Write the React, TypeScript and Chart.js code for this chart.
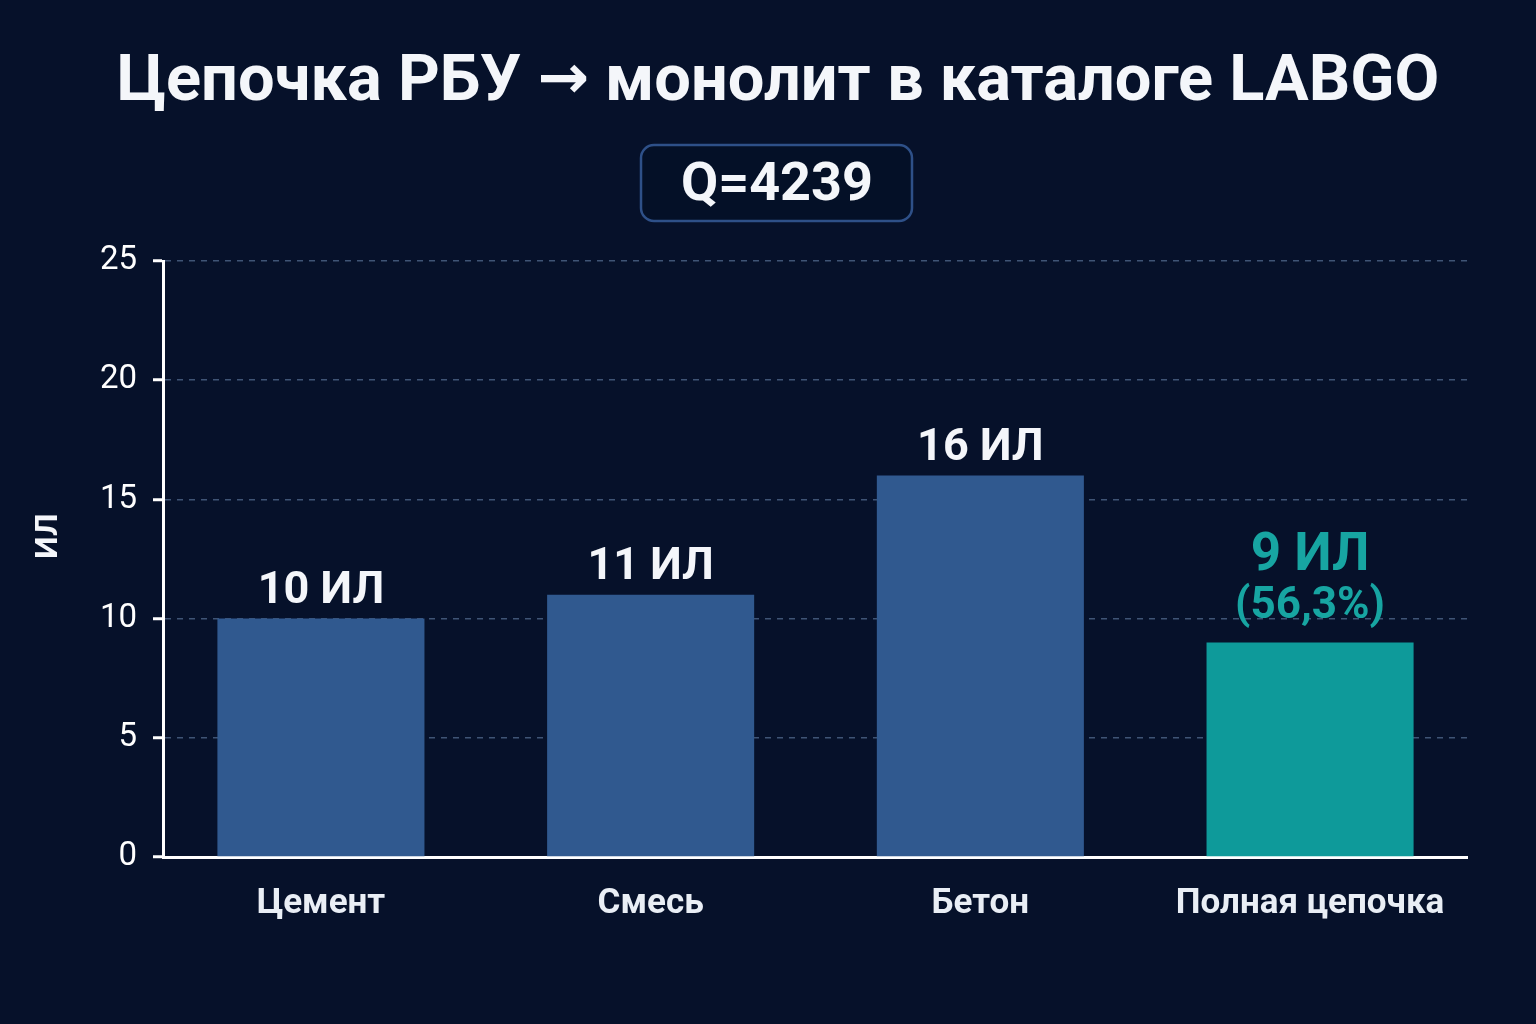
import { useEffect, useRef } from 'react';
import { Chart, registerables } from 'chart.js';

Chart.register(...registerables);

const W = 1536;
const H = 1024;
const BG = '#06112a';

const titleLeft = 'Цепочка РБУ ';
const titleArrow = '→';
const titleRight = ' монолит в каталоге LABGO';
const badgeText = 'Q=4239';
const yAxisTitle = 'ИЛ';

const categories = ['Цемент', 'Смесь', 'Бетон', 'Полная цепочка'];
const values = [10, 11, 16, 9];
const valueLabels = ['10 ИЛ', '11 ИЛ', '16 ИЛ', '9 ИЛ'];
const shareLabels = ['', '', '', '(56,3%)'];
const barColors = ['#30598f', '#30598f', '#30598f', '#0e9a9a'];
const yMin = 0;
const yMax = 25;
const yStep = 5;

const FONT = 'Roboto, "Noto Sans", sans-serif';
const ARROW_FONT = '"DejaVu Sans", sans-serif';

function roundRect(ctx: CanvasRenderingContext2D, x: number, y: number, w: number, h: number, r: number) {
  ctx.beginPath();
  ctx.moveTo(x + r, y);
  ctx.lineTo(x + w - r, y);
  ctx.arcTo(x + w, y, x + w, y + r, r);
  ctx.lineTo(x + w, y + h - r);
  ctx.arcTo(x + w, y + h, x + w - r, y + h, r);
  ctx.lineTo(x + r, y + h);
  ctx.arcTo(x, y + h, x, y + h - r, r);
  ctx.lineTo(x, y + r);
  ctx.arcTo(x, y, x + r, y, r);
  ctx.closePath();
}

const bgPlugin = {
  id: 'bgPlugin',
  beforeDraw(chart: any) {
    const ctx = chart.ctx as CanvasRenderingContext2D;
    ctx.save();
    ctx.fillStyle = BG;
    ctx.fillRect(0, 0, chart.width, chart.height);
    ctx.restore();
  },
};

function drawTitle(ctx: CanvasRenderingContext2D) {
  const targetWidth = 1323;
  const cx = 778;
  const baseline = 100;
  const measure = (size: number) => {
    ctx.font = `bold ${size}px ${FONT}`;
    const a = ctx.measureText(titleLeft).width;
    const c = ctx.measureText(titleRight).width;
    ctx.font = `bold ${size * 0.95}px ${ARROW_FONT}`;
    const b = ctx.measureText(titleArrow).width;
    return { a, b, c, total: a + b + c };
  };
  const base = 58;
  const m0 = measure(base);
  const size = Math.min(66, base * (targetWidth / m0.total));
  const m = measure(size);
  let x = cx - m.total / 2;
  ctx.textAlign = 'left';
  ctx.textBaseline = 'alphabetic';
  ctx.fillStyle = '#f4f6fa';
  ctx.font = `bold ${size}px ${FONT}`;
  ctx.fillText(titleLeft, x, baseline);
  x += m.a;
  ctx.font = `bold ${size * 0.95}px ${ARROW_FONT}`;
  ctx.fillText(titleArrow, x, baseline - 2);
  x += m.b;
  ctx.font = `bold ${size}px ${FONT}`;
  ctx.fillText(titleRight, x, baseline);
}

const decorPlugin = {
  id: 'decorPlugin',
  afterDraw(chart: any) {
    const ctx = chart.ctx as CanvasRenderingContext2D;
    ctx.save();
    drawTitle(ctx);

    // Badge
    roundRect(ctx, 641, 145, 271, 76, 13);
    ctx.fillStyle = '#041027';
    ctx.fill();
    ctx.lineWidth = 2.5;
    ctx.strokeStyle = '#2e5088';
    ctx.stroke();
    ctx.fillStyle = '#f4f6fa';
    ctx.textAlign = 'center';
    ctx.textBaseline = 'alphabetic';
    ctx.font = `bold 54px ${FONT}`;
    ctx.fillText(badgeText, 777, 200);

    // Y axis title
    ctx.save();
    ctx.translate(49, 536);
    ctx.rotate(-Math.PI / 2);
    ctx.textBaseline = 'middle';
    ctx.font = `bold 32px ${FONT}`;
    ctx.fillText(yAxisTitle, 0, 0);
    ctx.restore();

    // Bar labels
    const meta = chart.getDatasetMeta(0);
    meta.data.forEach((bar: any, i: number) => {
      const x = bar.x;
      const y = bar.y;
      ctx.textAlign = 'center';
      ctx.textBaseline = 'alphabetic';
      if (shareLabels[i]) {
        ctx.fillStyle = '#17a5a2';
        ctx.font = `bold 44px ${FONT}`;
        ctx.fillText(shareLabels[i], x, y - 24);
        ctx.font = `bold 53px ${FONT}`;
        ctx.fillText(valueLabels[i], x, y - 72);
      } else {
        ctx.fillStyle = '#f4f6fa';
        ctx.font = `bold 45px ${FONT}`;
        ctx.fillText(valueLabels[i], x, y - 16);
      }
    });
    ctx.restore();
  },
};

export default function App() {
  const ref = useRef<HTMLCanvasElement>(null);

  useEffect(() => {
    const chart = new Chart(ref.current!, {
      type: 'bar',
      data: {
        labels: categories,
        datasets: [
          {
            data: values,
            backgroundColor: barColors,
            borderWidth: 0,
            barPercentage: 0.628,
            categoryPercentage: 1,
          },
        ],
      },
      options: {
        responsive: false,
        animation: false,
        devicePixelRatio: 1,
        layout: { padding: { top: 261, right: 69, bottom: 0, left: 0 } },
        plugins: { legend: { display: false }, tooltip: { enabled: false } },
        scales: {
          x: {
            grid: { display: false },
            border: { display: true, color: '#ffffff', width: 3 },
            ticks: {
              color: '#e9eef5',
              font: { family: FONT, size: 35, weight: 'bold' },
              padding: 18,
            },
            afterBuildTicks: (s: any) => {
              s._startValue = -0.479;
              s._valueRange = 3.955;
            },
            afterFit: (s: any) => {
              s.height = 167;
            },
          },
          y: {
            min: yMin,
            max: yMax,
            ticks: {
              stepSize: yStep,
              color: '#ffffff',
              font: { family: FONT, size: 33 },
              padding: 16,
            },
            grid: {
              color: (c: any) => (c.tick && c.tick.value === 0 ? 'rgba(0,0,0,0)' : 'rgba(88,112,150,0.7)'),
              lineWidth: 1.5,
              drawTicks: true,
              tickLength: 10,
              tickColor: '#ffffff',
              tickWidth: 3,
            },
            border: { display: true, color: '#ffffff', width: 3, dash: [6, 6] },
            afterFit: (s: any) => {
              s.width = 163;
            },
          },
        },
      } as any,
      plugins: [bgPlugin, decorPlugin],
    });
    return () => chart.destroy();
  }, []);

  return (
    <div style={{ position: 'fixed', left: 0, top: 0, width: W, height: H, background: BG }}>
      <canvas ref={ref} width={W} height={H} style={{ display: 'block', width: W, height: H }} />
    </div>
  );
}
